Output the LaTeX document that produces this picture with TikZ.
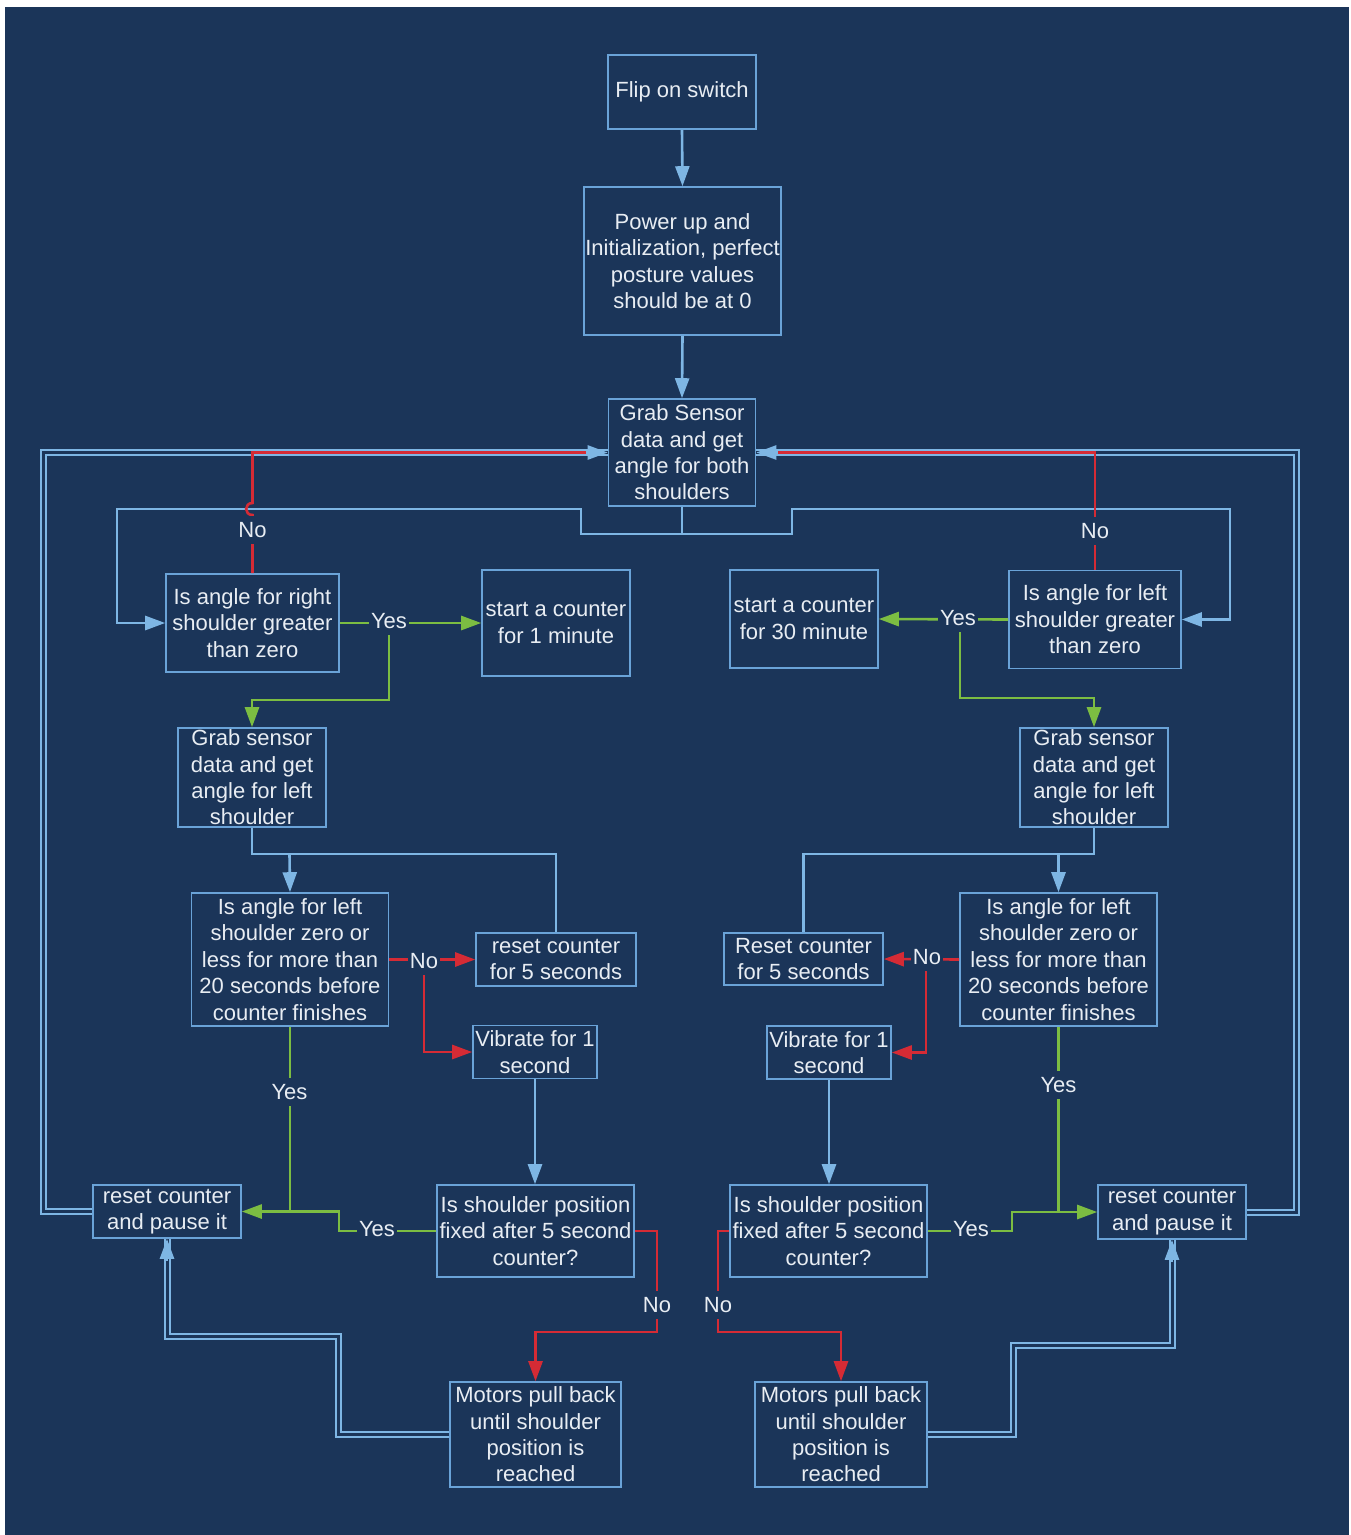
\documentclass[tikz,border=0pt]{standalone}
\usepackage{fontspec}
\setmainfont{Liberation Sans}
\usetikzlibrary{arrows.meta,calc}
\definecolor{navy}{HTML}{1B3559}
\definecolor{lblue}{HTML}{7EB6E4}
\definecolor{boxc}{HTML}{6AA3D8}
\definecolor{grn}{HTML}{7CBD42}
\definecolor{red1}{HTML}{D52B35}
\definecolor{txt}{HTML}{E8EDF3}
\begin{document}
\begin{tikzpicture}[x=1pt,y=-1pt,
  box/.style={draw=boxc, line width=1.6pt, text=txt, align=center, inner sep=0pt, font=\fontsize{22}{26.4}\selectfont},
  bl/.style={draw=lblue, line width=2.6pt},
  gr/.style={draw=grn, line width=2.6pt},
  rd/.style={draw=red1, line width=2.6pt},
  tip/.style={-{Triangle[length=20pt,width=14pt]}},
  dbl/.style={draw=lblue, line width=2pt, double=navy, double distance=3pt},
  lbl/.style={fill=navy, text=txt, inner xsep=2pt, inner ysep=6pt, font=\fontsize{22}{26.4}\selectfont}]
\useasboundingbox (0,0) rectangle (1351,1535);
\fill[white] (0,0) rectangle (1351,1535);
\fill[navy] (5,7) rectangle (1349,1535);

% nodes
\node[box, minimum width=148pt, minimum height=74pt] (flip) at (682,92) {Flip on switch};
\node[box, minimum width=197pt, minimum height=148pt] (power) at (682.5,261) {Power up and\\Initialization, perfect\\posture values\\should be at 0};
\node[box, minimum width=147pt, minimum height=107pt] (grab) at (682,452.5) {Grab Sensor\\data and get\\angle for both\\shoulders};
\node[box, minimum width=173pt, minimum height=98pt] (decR) at (252.5,623) {Is angle for right\\shoulder greater\\than zero};
\node[box, minimum width=148pt, minimum height=106pt] (cnt1) at (556,623) {start a counter\\for 1 minute};
\node[box, minimum width=148pt, minimum height=98pt] (cnt30) at (804,619) {start a counter\\for 30 minute};
\node[box, minimum width=172pt, minimum height=98pt] (decL) at (1095,619.5) {Is angle for left\\shoulder greater\\than zero};
\node[box, minimum width=148pt, minimum height=99pt] (grabL) at (252,777.5) {Grab sensor\\data and get\\angle for left\\shoulder};
\node[box, minimum width=148pt, minimum height=99pt] (grabR) at (1094,777.5) {Grab sensor\\data and get\\angle for left\\shoulder};
\node[box, minimum width=197pt, minimum height=133pt] (zl) at (290,959.5) {Is angle for left\\shoulder zero or\\less for more than\\20 seconds before\\counter finishes};
\node[box, minimum width=160pt, minimum height=53pt] (rs5L) at (556,959.5) {reset counter\\for 5 seconds};
\node[box, minimum width=124pt, minimum height=53pt] (vibL) at (535,1052) {Vibrate for 1\\second};
\node[box, minimum width=159pt, minimum height=52pt] (rs5R) at (803.5,959) {Reset counter\\for 5 seconds};
\node[box, minimum width=124pt, minimum height=53pt] (vibR) at (829,1052.5) {Vibrate for 1\\second};
\node[box, minimum width=197pt, minimum height=133pt] (zr) at (1058.5,959.5) {Is angle for left\\shoulder zero or\\less for more than\\20 seconds before\\counter finishes};
\node[box, minimum width=148pt, minimum height=53pt] (rpL) at (167,1211.5) {reset counter\\and pause it};
\node[box, minimum width=197pt, minimum height=92pt] (fixL) at (535.5,1231) {Is shoulder position\\fixed after 5 second\\counter?};
\node[box, minimum width=197pt, minimum height=92pt] (fixR) at (828.5,1231) {Is shoulder position\\fixed after 5 second\\counter?};
\node[box, minimum width=148pt, minimum height=54pt] (rpR) at (1172,1212) {reset counter\\and pause it};
\node[box, minimum width=171pt, minimum height=105pt] (motL) at (535.5,1434.5) {Motors pull back\\until shoulder\\position is\\reached};
\node[box, minimum width=172pt, minimum height=105pt] (motR) at (841,1434.5) {Motors pull back\\until shoulder\\position is\\reached};

% double loop lines
\draw[dbl] (rpL.west) -- ++(-49,0) |- (grab.west);
\draw[dbl] (rpR.east) -- ++(50,0) |- (grab.east);
\draw[dbl] (motL.west) -| (338,1336) -| (rpL.south);
\draw[dbl] (motR.east) -| (1013,1345) -| (rpR.south);

% main flow
\draw[bl,tip] (flip.south) -- (power.north);
\draw[bl,tip] (power.south) -- (grab.north);
\coordinate (j0) at (682,534);
\draw[bl] (grab.south) -- (j0);
\draw[bl,tip] (j0) -- (581,534) -- (581,509) -- (117,509) |- (decR.west);
\draw[bl,tip] (j0) -- (792,534) -- (792,509) -- (1230,509) |- (decL.east);

% red No loops at top
\draw[rd, shorten >=20pt] (decR.north) -- (252.5,515) .. controls (244,515) and (244,503) .. (252.5,503) |- (grab.west);
\draw[rd, shorten >=20pt] (decL.north) |- (grab.east);
\draw[bl,tip] ($(grab.west)+(-22,0)$) -- (grab.west);
\draw[bl,tip] ($(grab.east)+(22,0)$) -- (grab.east);
\draw[bl,tip] ($(rpL.south)+(0,22)$) -- (rpL.south);
\draw[bl,tip] ($(rpR.south)+(0,22)$) -- (rpR.south);

% yes from top decisions
\coordinate (yR) at (389,623);
\coordinate (yL) at (960,619.5);
\draw[gr,tip] (decR.east) -- (cnt1.west);
\draw[gr,tip] (yR) -- (389,700) -| (grabL.north);
\draw[gr,tip] (decL.west) -- (cnt30.east);
\draw[gr,tip] (yL) -- (960,698) -| (grabR.north);

% grab sensor to decisions
\coordinate (jL) at (289.5,854);
\coordinate (jR) at (1058.5,854);
\draw[bl] (grabL.south) |- (jL);
\draw[bl] (rs5L.north) |- (jL);
\draw[bl,tip] (jL) -- (zl.north);
\draw[bl] (grabR.south) |- (jR);
\draw[bl] (rs5R.north) |- (jR);
\draw[bl,tip] (jR) -- (zr.north);

% No from zero decisions
\coordinate (nA) at (424,959.5);
\coordinate (nB) at (926,959.5);
\draw[rd,tip] (zl.east) -- (rs5L.west);
\draw[rd,tip] (nA) |- (vibL.west);
\draw[rd,tip] (zr.west) -- (rs5R.east);
\draw[rd,tip] (nB) |- (vibR.east);

% vibrate to fixed
\draw[bl,tip] (vibL.south) -- (vibL.south |- fixL.north);
\draw[bl,tip] (vibR.south) -- (vibR.south |- fixR.north);

% Yes to reset and pause
\draw[gr] (zl.south) -- (zl.south |- rpL.east);
\draw[gr,tip] (fixL.west) -- (339,1231) |- (rpL.east);
\draw[gr] (zr.south) -- (zr.south |- rpR.west);
\draw[gr,tip] (fixR.east) -- (1012,1231) |- (rpR.west);

% No to motors
\draw[rd,tip] (fixL.east) -| (657,1332) -| (motL.north);
\draw[rd,tip] (fixR.west) -| (718,1332) -| (motR.north);

% labels
\node[lbl] (lNo1) at (252.5,530) {No};
\node[lbl] (lNo2) at (1095,531) {No};
\node[lbl] (lY1) at (389,621) {Yes};
\node[lbl] (lY2) at (958,618) {Yes};
\node[lbl] (lNo3) at (424,961) {No};
\node[lbl] (lNo4) at (927,957) {No};
\node[lbl] (lY3) at (289.5,1092) {Yes};
\node[lbl] (lY4) at (1058.5,1085) {Yes};
\node[lbl] (lY5) at (377,1229) {Yes};
\node[lbl] (lY6) at (971,1229) {Yes};
\node[lbl] (lNo5) at (657,1305) {No};
\node[lbl] (lNo6) at (718,1305) {No};
\end{tikzpicture}
\end{document}
